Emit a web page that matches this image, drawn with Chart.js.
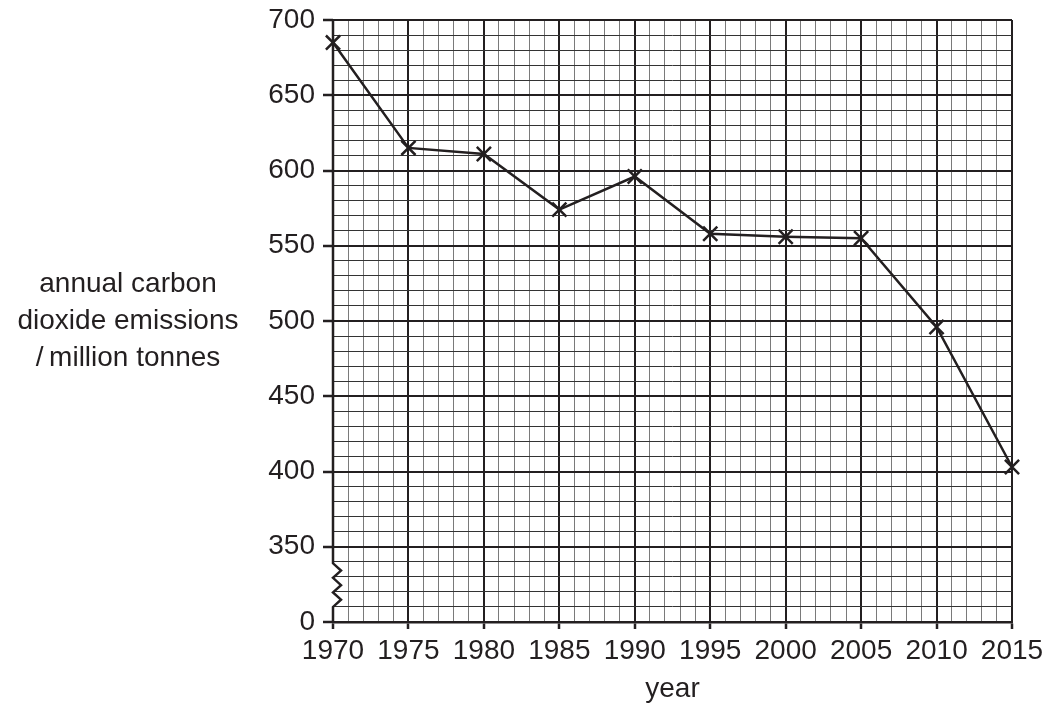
<!DOCTYPE html>
<html>
<head>
<meta charset="utf-8">
<script src="https://cdn.jsdelivr.net/npm/chart.js@4/dist/chart.umd.min.js"></script>
<style>
  html, body { margin: 0; padding: 0; background: #fff; }
</style>
</head>
<body>
<canvas id="myChart" width="1050" height="708"></canvas>
<script>
// data
const years = [1970, 1975, 1980, 1985, 1990, 1995, 2000, 2005, 2010, 2015]
const emissions = [685, 615, 611, 574, 596, 558, 556, 555, 496, 403]

// axis labels (the y axis is broken: bottom gridline is labelled 0)
const yTickValues = [300, 350, 400, 450, 500, 550, 600, 650, 700]
const yTickText = ["0", "350", "400", "450", "500", "550", "600", "650", "700"]
const yTitle = ["annual carbon", "dioxide emissions", "/\u2009million tonnes"]
const xTitle = "year"

const ink = "#231f20"
const font = '"Liberation Sans", Arial, Helvetica, sans-serif'

const isMajorX = (v) => v % 5 === 0
const isMajorY = (v) => v % 50 === 0

// axis break + horizontal y title
const extras = {
  id: "extras",
  beforeDatasetsDraw(chart) {
    const c = chart.ctx
    const a = chart.chartArea
    const y = chart.scales.y
    const top = y.getPixelForValue(339)
    const bot = y.getPixelForValue(310)
    const n = 6
    c.save()
    c.strokeStyle = ink
    c.lineWidth = 2.5
    c.lineJoin = "miter"
    c.beginPath()
    c.moveTo(a.left, a.top)
    c.lineTo(a.left, top)
    for (let i = 1; i < n; i++) {
      c.lineTo(a.left + (i % 2 ? 8 : 0), top + (bot - top) * i / n)
    }
    c.lineTo(a.left, bot)
    c.lineTo(a.left, a.bottom)
    c.stroke()
    c.restore()
  },
  afterDraw(chart) {
    const c = chart.ctx
    c.save()
    c.fillStyle = ink
    c.font = "28px " + font
    c.textAlign = "center"
    c.textBaseline = "middle"
    yTitle.forEach((t, i) => c.fillText(t, 128, 284 + i * 37))
    c.restore()
  }
}

const ctx = document.getElementById("myChart")

new Chart(ctx, {
  type: "line",
  data: {
    datasets: [{
      data: years.map((yr, i) => ({ x: yr, y: emissions[i] })),
      borderColor: ink,
      borderWidth: 2.5,
      pointStyle: "crossRot",
      pointRadius: 10,
      pointBorderWidth: 2.5,
      pointBorderColor: ink,
      tension: 0,
      clip: false
    }]
  },
  options: {
    responsive: false,
    animation: false,
    layout: { padding: { left: 253, right: 38, top: 20, bottom: 0 } },
    plugins: { legend: { display: false }, tooltip: { enabled: false } },
    scales: {
      x: {
        type: "linear",
        min: 1970,
        max: 2015,
        afterFit: (s) => { s.height = 86 },
        afterBuildTicks: (s) => {
          s.ticks = []
          for (let v = 1970; v <= 2015; v++) s.ticks.push({ value: v })
        },
        ticks: {
          autoSkip: false,
          maxRotation: 0,
          padding: 5,
          color: ink,
          font: { family: font, size: 28 },
          callback: (v) => isMajorX(v) ? String(v) : ""
        },
        grid: {
          color: (c) => c.tick.value === 1970 ? "rgba(0,0,0,0)" : (isMajorX(c.tick.value) ? ink : "#7a7a7a"),
          lineWidth: (c) => isMajorX(c.tick.value) ? 2 : 1,
          tickColor: (c) => isMajorX(c.tick.value) ? ink : "rgba(0,0,0,0)",
          tickWidth: 2.5,
          tickLength: 7
        },
        border: { display: true, color: ink, width: 2.5 },
        title: {
          display: true,
          text: xTitle,
          color: ink,
          font: { family: font, size: 28 },
          padding: { top: 0, bottom: 2 }
        }
      },
      y: {
        min: 300,
        max: 700,
        afterFit: (s) => {
          s.width = 80
          s.paddingTop = 0
          s.paddingBottom = 0
        },
        afterBuildTicks: (s) => {
          s.ticks = []
          for (let v = 300; v <= 700; v += 10) s.ticks.push({ value: v })
        },
        ticks: {
          autoSkip: false,
          padding: 8,
          color: ink,
          font: { family: font, size: 28 },
          callback: (v) => {
            const k = yTickValues.indexOf(v)
            return k >= 0 ? yTickText[k] : ""
          }
        },
        grid: {
          color: (c) => isMajorY(c.tick.value) ? ink : "#333333",
          lineWidth: (c) => isMajorY(c.tick.value) ? 2 : 1,
          tickColor: (c) => isMajorY(c.tick.value) ? ink : "rgba(0,0,0,0)",
          tickWidth: 2.5,
          tickLength: 10
        },
        border: { display: false }
      }
    }
  },
  plugins: [extras]
})
</script>
</body>
</html>
